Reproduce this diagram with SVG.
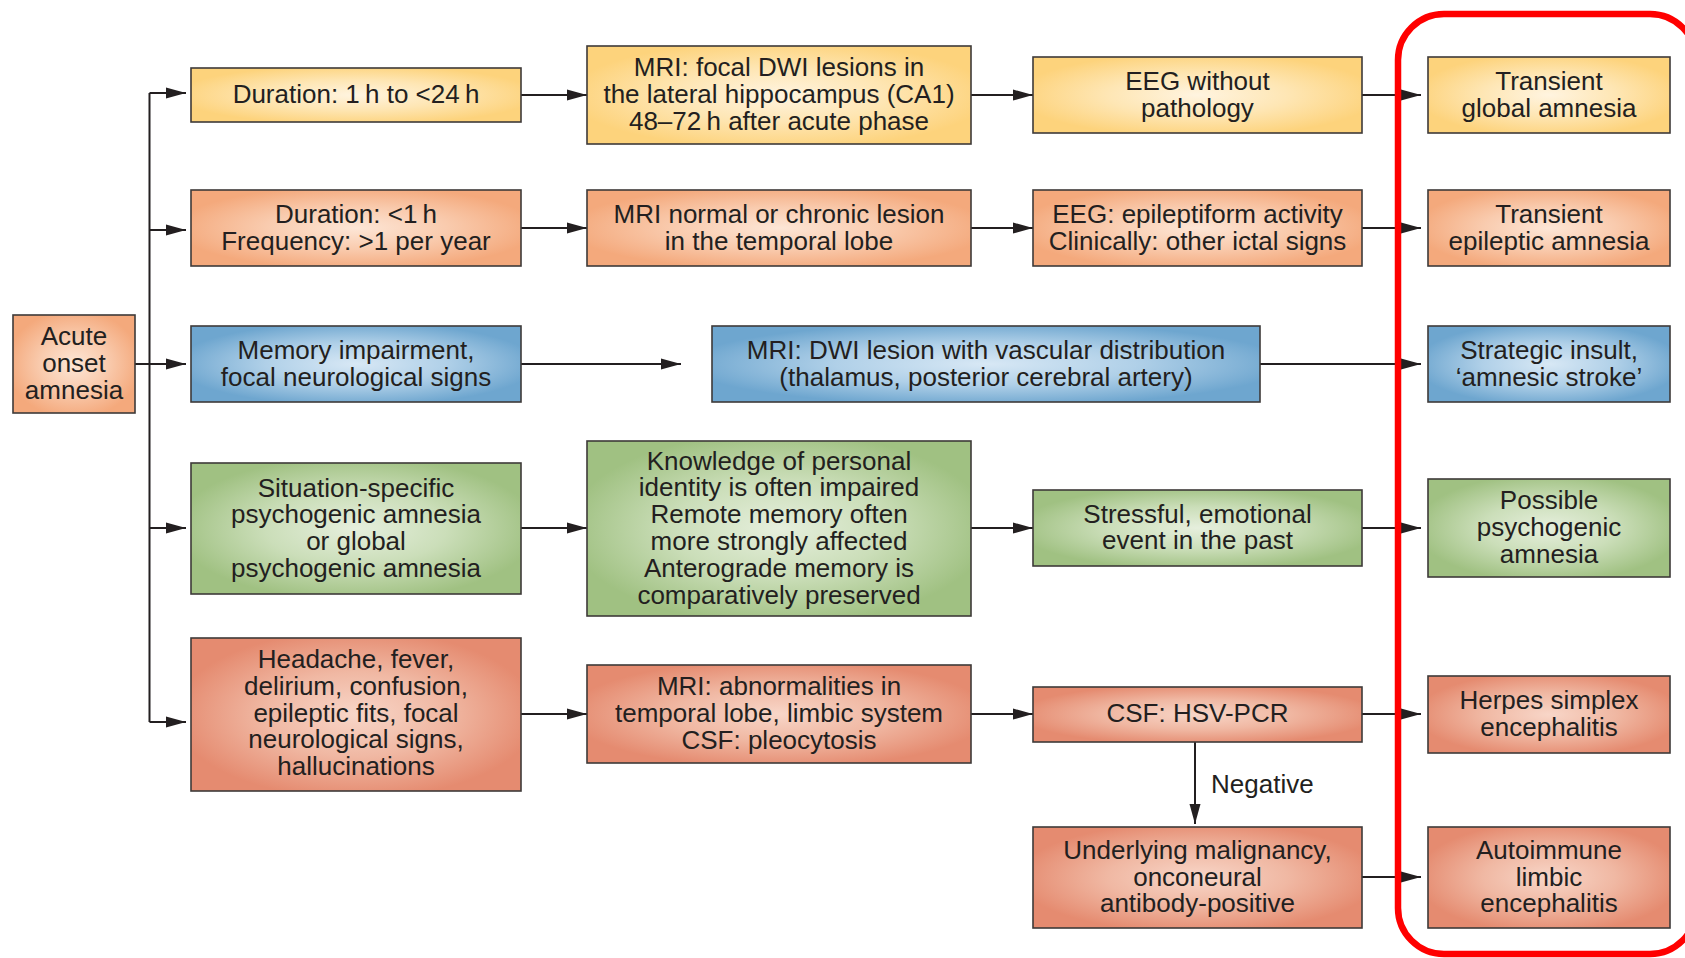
<svg xmlns="http://www.w3.org/2000/svg" width="1685" height="958" viewBox="0 0 1685 958">
  <style>
    text { font-family: "Liberation Sans", Arial, sans-serif; font-size: 26px; fill: #231f20; text-anchor: middle; }
    .box { stroke: #3e3a39; stroke-width: 1.6; }
    .yel { fill: url(#gYel); }
    .org { fill: url(#gOrg); }
    .blu { fill: url(#gBlu); }
    .grn { fill: url(#gGrn); }
    .red { fill: url(#gRed); }
    .wire { fill: none; stroke: #231f20; stroke-width: 2; }
    .arrow { fill: none; stroke: #231f20; stroke-width: 2; marker-end: url(#head); }
    .frame { fill: none; stroke: #ff0000; stroke-width: 6.5; }
    .lbl { text-anchor: start; }
  </style>
  <defs>
    <marker id="head" markerUnits="userSpaceOnUse" markerWidth="20" markerHeight="12" refX="20" refY="6" orient="auto">
      <path d="M0,0.5 L20,6 L0,11.5 z" fill="#231f20"/>
    </marker>
    <radialGradient id="gYel" cx="50%" cy="50%" r="55%">
      <stop offset="0" stop-color="#fff4e0"/>
      <stop offset="0.5" stop-color="#fee6b4"/>
      <stop offset="1" stop-color="#fdd37c"/>
    </radialGradient>
    <radialGradient id="gOrg" cx="50%" cy="50%" r="55%">
      <stop offset="0" stop-color="#fde6d6"/>
      <stop offset="0.5" stop-color="#f9cbae"/>
      <stop offset="1" stop-color="#f4a97c"/>
    </radialGradient>
    <radialGradient id="gBlu" cx="50%" cy="50%" r="55%">
      <stop offset="0" stop-color="#d8e8f5"/>
      <stop offset="0.5" stop-color="#b0d0e8"/>
      <stop offset="1" stop-color="#6ea6cf"/>
    </radialGradient>
    <radialGradient id="gGrn" cx="50%" cy="50%" r="55%">
      <stop offset="0" stop-color="#e6efdd"/>
      <stop offset="0.5" stop-color="#cbdeb9"/>
      <stop offset="1" stop-color="#a0c182"/>
    </radialGradient>
    <radialGradient id="gRed" cx="50%" cy="50%" r="55%">
      <stop offset="0" stop-color="#f8d6c8"/>
      <stop offset="0.5" stop-color="#f0b8a3"/>
      <stop offset="1" stop-color="#e58b70"/>
    </radialGradient>
  </defs>

  <rect width="1685" height="958" fill="#ffffff"/>

  <!-- connectors -->
  <g id="connectors">
    <!-- trunk from the start node -->
    <path class="wire" d="M149.5,93 V722"/>
    <path class="arrow" d="M149.5,93 H186"/>
    <path class="arrow" d="M149.5,230 H186"/>
    <path class="arrow" d="M135,364 H186"/>
    <path class="arrow" d="M149.5,528 H186"/>
    <path class="arrow" d="M149.5,722 H186"/>
    <!-- row 1 -->
    <path class="arrow" d="M521,95 H587"/>
    <path class="arrow" d="M971,95 H1033"/>
    <path class="arrow" d="M1362,95 H1421"/>
    <!-- row 2 -->
    <path class="arrow" d="M521,228 H587"/>
    <path class="arrow" d="M971,228 H1033"/>
    <path class="arrow" d="M1362,228 H1421"/>
    <!-- row 3 -->
    <path class="arrow" d="M521,364 H681"/>
    <path class="arrow" d="M1260,364 H1421"/>
    <!-- row 4 -->
    <path class="arrow" d="M521,528 H587"/>
    <path class="arrow" d="M971,528 H1033"/>
    <path class="arrow" d="M1362,528 H1421"/>
    <!-- row 5 -->
    <path class="arrow" d="M521,714 H587"/>
    <path class="arrow" d="M971,714 H1033"/>
    <path class="arrow" d="M1362,714 H1421"/>
    <!-- negative branch -->
    <path class="arrow" d="M1195,742 V824"/>
    <text class="lbl" x="1211" y="793">Negative</text>
    <path class="arrow" d="M1362,877 H1421"/>
  </g>

  <!-- start node -->
  <g id="acute-onset">
    <rect class="box org" x="13" y="315" width="122" height="98"/>
    <text x="74" y="345">Acute</text>
    <text x="74" y="372">onset</text>
    <text x="74" y="399">amnesia</text>
  </g>

  <!-- row 1: transient global amnesia -->
  <g id="duration-24h">
    <rect class="box yel" x="191" y="68" width="330" height="54"/>
    <text x="356" y="103">Duration: 1&#8201;h to &lt;24&#8201;h</text>
  </g>
  <g id="mri-focal-dwi">
    <rect class="box yel" x="587" y="46" width="384" height="98"/>
    <text x="779" y="76">MRI: focal DWI lesions in</text>
    <text x="779" y="103">the lateral hippocampus (CA1)</text>
    <text x="779" y="130">48–72&#8201;h after acute phase</text>
  </g>
  <g id="eeg-normal">
    <rect class="box yel" x="1033" y="57" width="329" height="76"/>
    <text x="1197.5" y="89.5">EEG without</text>
    <text x="1197.5" y="116.5">pathology</text>
  </g>
  <g id="tga">
    <rect class="box yel" x="1428" y="57" width="242" height="76"/>
    <text x="1549" y="89.5">Transient</text>
    <text x="1549" y="116.5">global amnesia</text>
  </g>

  <!-- row 2: transient epileptic amnesia -->
  <g id="duration-1h">
    <rect class="box org" x="191" y="190" width="330" height="76"/>
    <text x="356" y="222.5">Duration: &lt;1&#8201;h</text>
    <text x="356" y="249.5">Frequency: &gt;1 per year</text>
  </g>
  <g id="mri-temporal">
    <rect class="box org" x="587" y="190" width="384" height="76"/>
    <text x="779" y="222.5">MRI normal or chronic lesion</text>
    <text x="779" y="249.5">in the temporal lobe</text>
  </g>
  <g id="eeg-epileptiform">
    <rect class="box org" x="1033" y="190" width="329" height="76"/>
    <text x="1197.5" y="222.5">EEG: epileptiform activity</text>
    <text x="1197.5" y="249.5">Clinically: other ictal signs</text>
  </g>
  <g id="tea">
    <rect class="box org" x="1428" y="190" width="242" height="76"/>
    <text x="1549" y="222.5">Transient</text>
    <text x="1549" y="249.5">epileptic amnesia</text>
  </g>

  <!-- row 3: strategic insult -->
  <g id="memory-focal">
    <rect class="box blu" x="191" y="326" width="330" height="76"/>
    <text x="356" y="358.5">Memory impairment,</text>
    <text x="356" y="385.5">focal neurological signs</text>
  </g>
  <g id="mri-vascular">
    <rect class="box blu" x="712" y="326" width="548" height="76"/>
    <text x="986" y="358.5">MRI: DWI lesion with vascular distribution</text>
    <text x="986" y="385.5">(thalamus, posterior cerebral artery)</text>
  </g>
  <g id="stroke">
    <rect class="box blu" x="1428" y="326" width="242" height="76"/>
    <text x="1549" y="358.5">Strategic insult,</text>
    <text x="1549" y="385.5">‘amnesic stroke’</text>
  </g>

  <!-- row 4: psychogenic amnesia -->
  <g id="situation-specific">
    <rect class="box grn" x="191" y="463" width="330" height="131"/>
    <text x="356" y="496.5">Situation-specific</text>
    <text x="356" y="523.3">psychogenic amnesia</text>
    <text x="356" y="550.1">or global</text>
    <text x="356" y="576.9">psychogenic amnesia</text>
  </g>
  <g id="identity-impaired">
    <rect class="box grn" x="587" y="441" width="384" height="175"/>
    <text x="779" y="469.5">Knowledge of personal</text>
    <text x="779" y="496.3">identity is often impaired</text>
    <text x="779" y="523.1">Remote memory often</text>
    <text x="779" y="549.9">more strongly affected</text>
    <text x="779" y="576.7">Anterograde memory is</text>
    <text x="779" y="603.5">comparatively preserved</text>
  </g>
  <g id="stressful-event">
    <rect class="box grn" x="1033" y="490" width="329" height="76"/>
    <text x="1197.5" y="522.5">Stressful, emotional</text>
    <text x="1197.5" y="549.3">event in the past</text>
  </g>
  <g id="psychogenic">
    <rect class="box grn" x="1428" y="479" width="242" height="98"/>
    <text x="1549" y="509">Possible</text>
    <text x="1549" y="535.8">psychogenic</text>
    <text x="1549" y="562.6">amnesia</text>
  </g>

  <!-- row 5: encephalitis -->
  <g id="headache-fever">
    <rect class="box red" x="191" y="638" width="330" height="153"/>
    <text x="356" y="668">Headache, fever,</text>
    <text x="356" y="694.8">delirium, confusion,</text>
    <text x="356" y="721.6">epileptic fits, focal</text>
    <text x="356" y="748.4">neurological signs,</text>
    <text x="356" y="775.2">hallucinations</text>
  </g>
  <g id="mri-limbic">
    <rect class="box red" x="587" y="665" width="384" height="98"/>
    <text x="779" y="695.2">MRI: abnormalities in</text>
    <text x="779" y="722">temporal lobe, limbic system</text>
    <text x="779" y="748.8">CSF: pleocytosis</text>
  </g>
  <g id="csf-hsv">
    <rect class="box red" x="1033" y="687" width="329" height="55"/>
    <text x="1197.5" y="722">CSF: HSV-PCR</text>
  </g>
  <g id="hse">
    <rect class="box red" x="1428" y="676" width="242" height="77"/>
    <text x="1549" y="709">Herpes simplex</text>
    <text x="1549" y="735.8">encephalitis</text>
  </g>
  <g id="malignancy">
    <rect class="box red" x="1033" y="827" width="329" height="101"/>
    <text x="1197.5" y="858.7">Underlying malignancy,</text>
    <text x="1197.5" y="885.5">onconeural</text>
    <text x="1197.5" y="912.3">antibody-positive</text>
  </g>
  <g id="autoimmune">
    <rect class="box red" x="1428" y="827" width="242" height="101"/>
    <text x="1549" y="858.7">Autoimmune</text>
    <text x="1549" y="885.5">limbic</text>
    <text x="1549" y="912.3">encephalitis</text>
  </g>

  <!-- outcome frame -->
  <rect id="outcome-frame" class="frame" x="1398" y="14" width="298" height="940" rx="46" ry="46"/>
</svg>
